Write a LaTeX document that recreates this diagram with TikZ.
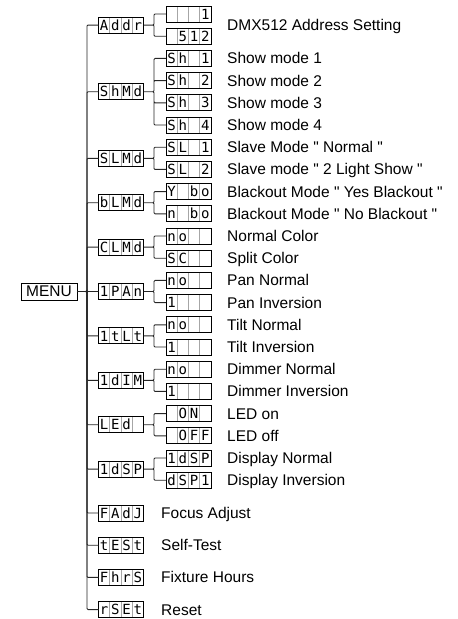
\documentclass[tikz,border=0pt]{standalone}
\usepackage{fontspec}
\setmainfont{Liberation Sans}
\newfontfamily\segfont{DejaVu Sans Mono}
\usetikzlibrary{positioning, calc}
\definecolor{ink}{HTML}{262626}
\definecolor{cellgray}{HTML}{A6A6A6}
% four cells of a display
\newcommand\cells[4]{\makebox[11.25pt]{#1}\makebox[11.25pt]{#2}\makebox[11.25pt]{#3}\makebox[11.25pt]{#4}}
\tikzset{
  seg/.style={draw=black, line width=0.9pt, fill=white, minimum width=45pt,
              minimum height=16pt, inner sep=0pt, outer sep=0pt,
              text height=10.2pt, text depth=0pt,
              font=\segfont\fontsize{14}{14}\selectfont,
              path picture={\foreach \f in {0.25,0.5,0.75}
                \draw[cellgray, line width=0.6pt]
                  ($(path picture bounding box.north west)!\f!(path picture bounding box.north east)$) --
                  ($(path picture bounding box.south west)!\f!(path picture bounding box.south east)$);}},
  lbl/.style={anchor=west, inner sep=0pt, text height=11pt, text depth=0pt,
              font=\fontsize{15.5}{18}\selectfont},
  link/.style={draw=ink, line width=0.9pt, rounded corners=1pt},
}
\begin{document}
\begin{tikzpicture}[x=1pt, y=-1pt, node distance=6.2pt]
  \useasboundingbox (0,0) rectangle (458,619);
  \node[draw=black, line width=0.9pt, minimum width=56pt, minimum height=17pt,
        inner sep=0pt, outer sep=0pt, font=\fontsize{15.5}{18}\selectfont] (menu) at (49,291.5) {MENU};
  % second column: the settings
  \node[seg] (a1) at (188.5,14) {\cells{}{}{}{1}};
  \node[seg, below=of a1] (a2) {\cells{}{5}{1}{2}};
  \node[seg, below=of a2] (sh1) {\cells{S}{h}{}{1}};
  \node[seg, below=of sh1] (sh2) {\cells{S}{h}{}{2}};
  \node[seg, below=of sh2] (sh3) {\cells{S}{h}{}{3}};
  \node[seg, below=of sh3] (sh4) {\cells{S}{h}{}{4}};
  \node[seg, below=of sh4] (sl1) {\cells{S}{L}{}{1}};
  \node[seg, below=of sl1] (sl2) {\cells{S}{L}{}{2}};
  \node[seg, below=of sl2] (bo1) {\cells{Y}{}{b}{o}};
  \node[seg, below=of bo1] (bo2) {\cells{n}{}{b}{o}};
  \node[seg, below=of bo2] (cl1) {\cells{n}{o}{}{}};
  \node[seg, below=of cl1] (cl2) {\cells{S}{C}{}{}};
  \node[seg, below=of cl2] (pn1) {\cells{n}{o}{}{}};
  \node[seg, below=of pn1] (pn2) {\cells{1}{}{}{}};
  \node[seg, below=of pn2] (tl1) {\cells{n}{o}{}{}};
  \node[seg, below=of tl1] (tl2) {\cells{1}{}{}{}};
  \node[seg, below=of tl2] (dm1) {\cells{n}{o}{}{}};
  \node[seg, below=of dm1] (dm2) {\cells{1}{}{}{}};
  \node[seg, below=of dm2] (ld1) {\cells{}{O}{N}{}};
  \node[seg, below=of ld1] (ld2) {\cells{}{O}{F}{F}};
  \node[seg, below=of ld2] (dp1) {\cells{1}{d}{S}{P}};
  \node[seg, below=of dp1] (dp2) {\cells{d}{S}{P}{1}};
  % first column: the menu items
  \node[seg] (addr) at ($(a1)!.5!(a2)-(67.5,0)$) {\cells{A}{d}{d}{r}};
  \node[seg] (shmd) at ($(sh1)!.5!(sh4)-(67.5,0)$) {\cells{S}{h}{M}{d}};
  \node[seg] (slmd) at ($(sl1)!.5!(sl2)-(67.5,0)$) {\cells{S}{L}{M}{d}};
  \node[seg] (blmd) at ($(bo1)!.5!(bo2)-(67.5,0)$) {\cells{b}{L}{M}{d}};
  \node[seg] (clmd) at ($(cl1)!.5!(cl2)-(67.5,0)$) {\cells{C}{L}{M}{d}};
  \node[seg] (ipan) at ($(pn1)!.5!(pn2)-(67.5,0)$) {\cells{1}{P}{A}{n}};
  \node[seg] (itlt) at ($(tl1)!.5!(tl2)-(67.5,0)$) {\cells{1}{t}{L}{t}};
  \node[seg] (idim) at ($(dm1)!.5!(dm2)-(67.5,0)$) {\cells{1}{d}{I}{M}};
  \node[seg] (led) at ($(ld1)!.5!(ld2)-(67.5,0)$) {\cells{L}{E}{d}{}};
  \node[seg] (idsp) at ($(dp1)!.5!(dp2)-(67.5,0)$) {\cells{1}{d}{S}{P}};
  \node[seg, below=27.9pt of idsp] (fadj) {\cells{F}{A}{d}{J}};
  \node[seg, below=16.2pt of fadj] (test) {\cells{t}{E}{S}{t}};
  \node[seg, below=16.2pt of test] (fhrs) {\cells{F}{h}{r}{S}};
  \node[seg, below=16.2pt of fhrs] (rset) {\cells{r}{S}{E}{t}};
  % texts
  \node[lbl] (taddr) at ($(a1.east)!.5!(a2.east)+(16,0)$) {DMX512 Address Setting};
  \node[lbl, right=16pt of sh1] (tsh1) {Show mode 1};
  \node[lbl, right=16pt of sh2] (tsh2) {Show mode 2};
  \node[lbl, right=16pt of sh3] (tsh3) {Show mode 3};
  \node[lbl, right=16pt of sh4] (tsh4) {Show mode 4};
  \node[lbl, right=16pt of sl1] (tsl1) {Slave Mode \textquotedbl{} Normal \textquotedbl};
  \node[lbl, right=16pt of sl2] (tsl2) {Slave mode \textquotedbl{} 2 Light Show \textquotedbl};
  \node[lbl, right=16pt of bo1] (tbo1) {Blackout Mode \textquotedbl{} Yes Blackout \textquotedbl};
  \node[lbl, right=16pt of bo2] (tbo2) {Blackout Mode \textquotedbl{} No Blackout \textquotedbl};
  \node[lbl, right=16pt of cl1] (tcl1) {Normal Color};
  \node[lbl, right=16pt of cl2] (tcl2) {Split Color};
  \node[lbl, right=16pt of pn1] (tpn1) {Pan Normal};
  \node[lbl, right=16pt of pn2] (tpn2) {Pan Inversion};
  \node[lbl, right=16pt of tl1] (ttl1) {Tilt Normal};
  \node[lbl, right=16pt of tl2] (ttl2) {Tilt Inversion};
  \node[lbl, right=16pt of dm1] (tdm1) {Dimmer Normal};
  \node[lbl, right=16pt of dm2] (tdm2) {Dimmer Inversion};
  \node[lbl, right=16pt of ld1] (tld1) {LED on};
  \node[lbl, right=16pt of ld2] (tld2) {LED off};
  \node[lbl, right=16pt of dp1] (tdp1) {Display Normal};
  \node[lbl, right=16pt of dp2] (tdp2) {Display Inversion};
  \node[lbl, right=17.5pt of fadj] (tfadj) {Focus Adjust};
  \node[lbl, right=17.5pt of test] (ttest) {Self-Test};
  \node[lbl, right=17.5pt of fhrs] (tfhrs) {Fixture Hours};
  \node[lbl, right=17.5pt of rset] (trset) {Reset};
  % trunk from MENU
  \draw[link] (menu.east) -- ++(10,0) |- (addr.west);
  \draw[link] (menu.east) -- ++(10,0) |- (shmd.west);
  \draw[link] (menu.east) -- ++(10,0) |- (slmd.west);
  \draw[link] (menu.east) -- ++(10,0) |- (blmd.west);
  \draw[link] (menu.east) -- ++(10,0) |- (clmd.west);
  \draw[link] (menu.east) -- ++(10,0) |- (ipan.west);
  \draw[link] (menu.east) -- ++(10,0) |- (itlt.west);
  \draw[link] (menu.east) -- ++(10,0) |- (idim.west);
  \draw[link] (menu.east) -- ++(10,0) |- (led.west);
  \draw[link] (menu.east) -- ++(10,0) |- (idsp.west);
  \draw[link] (menu.east) -- ++(10,0) |- (fadj.west);
  \draw[link] (menu.east) -- ++(10,0) |- (test.west);
  \draw[link] (menu.east) -- ++(10,0) |- (fhrs.west);
  \draw[link] (menu.east) -- ++(10,0) |- (rset.west);
  % branches to the settings
  \draw[link] (addr.east) -- ++(10.5,0) |- (a1.west) (addr.east) -- ++(10.5,0) |- (a2.west);
  \draw[link] (shmd.east) -- ++(10.5,0) |- (sh1.west) (shmd.east) -- ++(10.5,0) |- (sh2.west)
              (shmd.east) -- ++(10.5,0) |- (sh3.west) (shmd.east) -- ++(10.5,0) |- (sh4.west);
  \draw[link] (slmd.east) -- ++(10.5,0) |- (sl1.west) (slmd.east) -- ++(10.5,0) |- (sl2.west);
  \draw[link] (blmd.east) -- ++(10.5,0) |- (bo1.west) (blmd.east) -- ++(10.5,0) |- (bo2.west);
  \draw[link] (clmd.east) -- ++(10.5,0) |- (cl1.west) (clmd.east) -- ++(10.5,0) |- (cl2.west);
  \draw[link] (ipan.east) -- ++(10.5,0) |- (pn1.west) (ipan.east) -- ++(10.5,0) |- (pn2.west);
  \draw[link] (itlt.east) -- ++(10.5,0) |- (tl1.west) (itlt.east) -- ++(10.5,0) |- (tl2.west);
  \draw[link] (idim.east) -- ++(10.5,0) |- (dm1.west) (idim.east) -- ++(10.5,0) |- (dm2.west);
  \draw[link] (led.east) -- ++(10.5,0) |- (ld1.west) (led.east) -- ++(10.5,0) |- (ld2.west);
  \draw[link] (idsp.east) -- ++(10.5,0) |- (dp1.west) (idsp.east) -- ++(10.5,0) |- (dp2.west);
\end{tikzpicture}
\end{document}
